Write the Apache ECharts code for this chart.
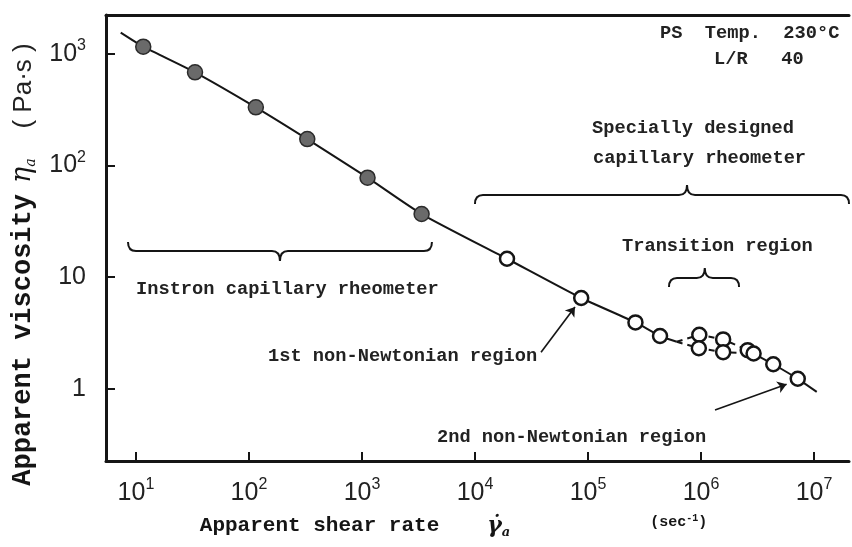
<!DOCTYPE html>
<html>
<head>
<meta charset="utf-8">
<script src="https://cdn.jsdelivr.net/npm/echarts@6/dist/echarts.min.js"></script>
<style>
  html, body { margin: 0; padding: 0; background: #fff; }
  #chart { width: 852px; height: 547px; }
</style>
</head>
<body>
<div id="chart"></div>
<script>
const instronRate = [11.6, 33.3, 115, 328, 1120, 3370];
const instronVisc = [1155, 681, 331, 172, 77.6, 36.7];
const specialRate = [19200, 87100, 263000, 434000, 966000, 957000, 1570000, 1570000, 2590000, 2920000, 4360000, 7180000];
const specialVisc = [14.6, 6.5, 3.93, 2.97, 3.05, 2.31, 2.77, 2.13, 2.22, 2.07, 1.66, 1.23];

// hand drawn curve: solid part, two dashed branches in the transition, solid tail
const curveRate = [7.33, 11.6, 33.3, 115, 328, 1120, 3370, 19200, 87100, 263000, 434000, 610000];
const curveVisc = [1542, 1155, 681, 331, 172, 77.6, 36.7, 14.6, 6.5, 3.93, 2.97, 2.64];
const upperRate = [610000, 966000, 1570000, 2590000];
const upperVisc = [2.64, 3.05, 2.77, 2.22];
const lowerRate = [610000, 957000, 1570000, 2920000];
const lowerVisc = [2.64, 2.31, 2.13, 2.07];
const tailRate = [2920000, 4360000, 7180000, 10570000];
const tailVisc = [2.07, 1.66, 1.23, 0.94];

// arrows to the two non-Newtonian regions
const arrowFrom = [[38400, 2.13], [1330000, 0.646]];
const arrowTo = [[76700, 5.4], [5720000, 1.1]];

// braces: start, end, tip (shear rate), level (viscosity), tip direction (1 down, -1 up)
const braceStart = [8.5, 10000, 521000];
const braceEnd = [4160, 20400000, 2170000];
const braceTip = [188, 752000, 1080000];
const braceLevel = [17.1, 54.3, 9.8];
const braceDir = [1, -1, -1];

const xTicks = [10, 100, 1e3, 1e4, 1e5, 1e6, 1e7];
const yTicks = [1, 10, 100, 1000];

const ink = '#151515';
const mono = 'Liberation Mono';
const noteFont = 'bold 18.7px ' + mono;

function zip(xs, ys) {
  return xs.map((x, i) => [x, ys[i]]);
}

function powLabel(v) {
  const n = Math.round(Math.log10(v));
  if (n === 0) return '{b|1}';
  if (n === 1) return '{b|10}';
  return '{b|10}{s|' + n + '}';
}
function powLabelX(v) {
  const n = Math.round(Math.log10(v));
  return '{b|10}{s|' + n + '}';
}

const tickRich = {
  b: {fontSize: 25, fontFamily: 'Liberation Sans', color: '#222', lineHeight: 32},
  s: {fontSize: 16, fontFamily: 'Liberation Sans', color: '#222', verticalAlign: 'top', lineHeight: 18}
};

const chart = echarts.init(document.getElementById('chart'));

chart.setOption({
  backgroundColor: '#fff',
  animation: false,
  grid: {left: 106, right: 3, top: 15, bottom: 86},
  xAxis: [{
    type: 'log',
    logBase: 10,
    min: 5.43,
    max: 2.04e7,
    name: '{t|Apparent shear rate}{g|γ̇}{ga|a}{u1|(sec}{us|-1}{u|)}{pad|}',
    nameLocation: 'middle',
    nameGap: 52,
    nameTextStyle: {
      rich: {
        t: {fontFamily: mono, fontWeight: 'bold', fontSize: 21, color: ink, lineHeight: 26},
        g: {fontFamily: 'DejaVu Serif', fontStyle: 'italic', fontWeight: 'bold', fontSize: 22, color: ink, padding: [0, 0, 0, 48], lineHeight: 26},
        ga: {fontFamily: 'DejaVu Serif', fontStyle: 'italic', fontWeight: 'bold', fontSize: 13, color: ink, verticalAlign: 'bottom', lineHeight: 12},
        u1: {fontFamily: mono, fontWeight: 'bold', fontSize: 15, color: ink, padding: [0, 0, 8, 140]},
        u: {fontFamily: mono, fontWeight: 'bold', fontSize: 15, color: ink, padding: [0, 0, 8, 0]},
        us: {fontFamily: mono, fontWeight: 'bold', fontSize: 10, color: ink, verticalAlign: 'top', lineHeight: 12},
        pad: {width: 48}
      }
    },
    axisLine: {lineStyle: {color: ink, width: 3}},
    axisTick: {inside: true, length: 9, customValues: xTicks, lineStyle: {color: ink, width: 2}},
    axisLabel: {customValues: xTicks, formatter: powLabelX, rich: tickRich, margin: 16},
    splitLine: {show: false},
    minorTick: {show: false}
  }, {
    type: 'log',
    logBase: 10,
    position: 'top',
    min: 5.43,
    max: 2.04e7,
    axisLine: {lineStyle: {color: ink, width: 3}},
    axisTick: {show: false},
    axisLabel: {show: false},
    splitLine: {show: false}
  }],
  yAxis: {
    type: 'log',
    logBase: 10,
    min: 0.226,
    max: 2218,
    name: '{t|Apparent viscosity}{g|η}{ga|a}{u|( Pa·s )}{pad|}',
    nameLocation: 'middle',
    nameGap: 54,
    nameTextStyle: {
      rich: {
        t: {fontFamily: mono, fontWeight: 'bold', fontSize: 27, color: ink, lineHeight: 30},
        g: {fontFamily: 'DejaVu Serif', fontStyle: 'italic', fontSize: 27, color: ink, padding: [0, 0, 0, 11], lineHeight: 30},
        ga: {fontFamily: 'DejaVu Serif', fontStyle: 'italic', fontSize: 14, color: ink, verticalAlign: 'bottom', lineHeight: 14},
        u: {fontFamily: 'Liberation Sans', fontSize: 26, color: '#222', padding: [0, 0, 0, 30], lineHeight: 30},
        pad: {width: 53}
      }
    },
    axisLine: {lineStyle: {color: ink, width: 3}},
    axisTick: {inside: true, length: 9, customValues: yTicks, lineStyle: {color: ink, width: 2}},
    axisLabel: {customValues: yTicks, formatter: powLabel, rich: tickRich, margin: 20},
    splitLine: {show: false},
    minorTick: {show: false}
  },
  series: [
    {
      name: 'curve',
      type: 'line',
      data: zip(curveRate, curveVisc),
      symbol: 'none',
      smooth: 0.2,
      lineStyle: {color: ink, width: 2},
      z: 2
    },
    {
      name: 'upper branch',
      type: 'line',
      data: zip(upperRate, upperVisc),
      symbol: 'none',
      lineStyle: {color: ink, width: 2, type: [6, 5]},
      z: 2
    },
    {
      name: 'lower branch',
      type: 'line',
      data: zip(lowerRate, lowerVisc),
      symbol: 'none',
      lineStyle: {color: ink, width: 2, type: [6, 5]},
      z: 2
    },
    {
      name: 'tail',
      type: 'line',
      data: zip(tailRate, tailVisc),
      symbol: 'none',
      smooth: 0.2,
      lineStyle: {color: ink, width: 2},
      z: 2
    },
    {
      name: 'Instron capillary rheometer',
      type: 'scatter',
      data: zip(instronRate, instronVisc),
      symbol: 'circle',
      symbolSize: 15,
      itemStyle: {color: '#6a6a6a', borderColor: '#2b2b2b', borderWidth: 1.5, opacity: 1},
      z: 4
    },
    {
      name: 'Specially designed capillary rheometer',
      type: 'scatter',
      data: zip(specialRate, specialVisc),
      symbol: 'circle',
      symbolSize: 14,
      itemStyle: {color: '#fff', borderColor: ink, borderWidth: 2.5, opacity: 1},
      z: 4,
      markLine: {
        silent: true,
        symbol: ['none', 'arrow'],
        symbolSize: 9,
        label: {show: false},
        lineStyle: {color: ink, width: 1.6, type: 'solid'},
        data: arrowFrom.map((p, i) => [{coord: p}, {coord: arrowTo[i]}])
      }
    },
    {
      name: 'braces',
      type: 'custom',
      clip: false,
      silent: true,
      encode: {x: [0, 1, 2], y: 3},
      data: braceStart.map((s, i) => [s, braceEnd[i], braceTip[i], braceLevel[i], braceDir[i]]),
      renderItem: function (params, api) {
        const a = api.coord([api.value(0), api.value(3)]);
        const b = api.coord([api.value(1), api.value(3)]);
        const m = api.coord([api.value(2), api.value(3)]);
        const d = api.value(4);
        const y = a[1], h = 9, t = 10, r = 8;
        const path = [
          'M', a[0], y - d * h,
          'Q', a[0], y, a[0] + r, y,
          'L', m[0] - r, y,
          'Q', m[0], y, m[0], y + d * t,
          'Q', m[0], y, m[0] + r, y,
          'L', b[0] - r, y,
          'Q', b[0], y, b[0], y - d * h
        ].join(' ');
        return {
          type: 'path',
          shape: {pathData: path},
          style: {fill: 'none', stroke: ink, lineWidth: 2}
        };
      },
      z: 3
    }
  ],
  graphic: [
    {type: 'text', x: 660, y: 33, style: {text: 'PS  Temp.  230°C', font: noteFont, fill: '#222', verticalAlign: 'middle'}},
    {type: 'text', x: 714, y: 59, style: {text: 'L/R   40', font: noteFont, fill: '#222', verticalAlign: 'middle'}},
    {type: 'text', x: 592, y: 128, style: {text: 'Specially designed', font: noteFont, fill: '#222', verticalAlign: 'middle'}},
    {type: 'text', x: 593, y: 158, style: {text: 'capillary rheometer', font: noteFont, fill: '#222', verticalAlign: 'middle'}},
    {type: 'text', x: 622, y: 246, style: {text: 'Transition region', font: noteFont, fill: '#222', verticalAlign: 'middle'}},
    {type: 'text', x: 136, y: 289, style: {text: 'Instron capillary rheometer', font: noteFont, fill: '#222', verticalAlign: 'middle'}},
    {type: 'text', x: 268, y: 356, style: {text: '1st non-Newtonian region', font: noteFont, fill: '#222', verticalAlign: 'middle'}},
    {type: 'text', x: 437, y: 437, style: {text: '2nd non-Newtonian region', font: noteFont, fill: '#222', verticalAlign: 'middle'}}
  ]
});
</script>
</body>
</html>
